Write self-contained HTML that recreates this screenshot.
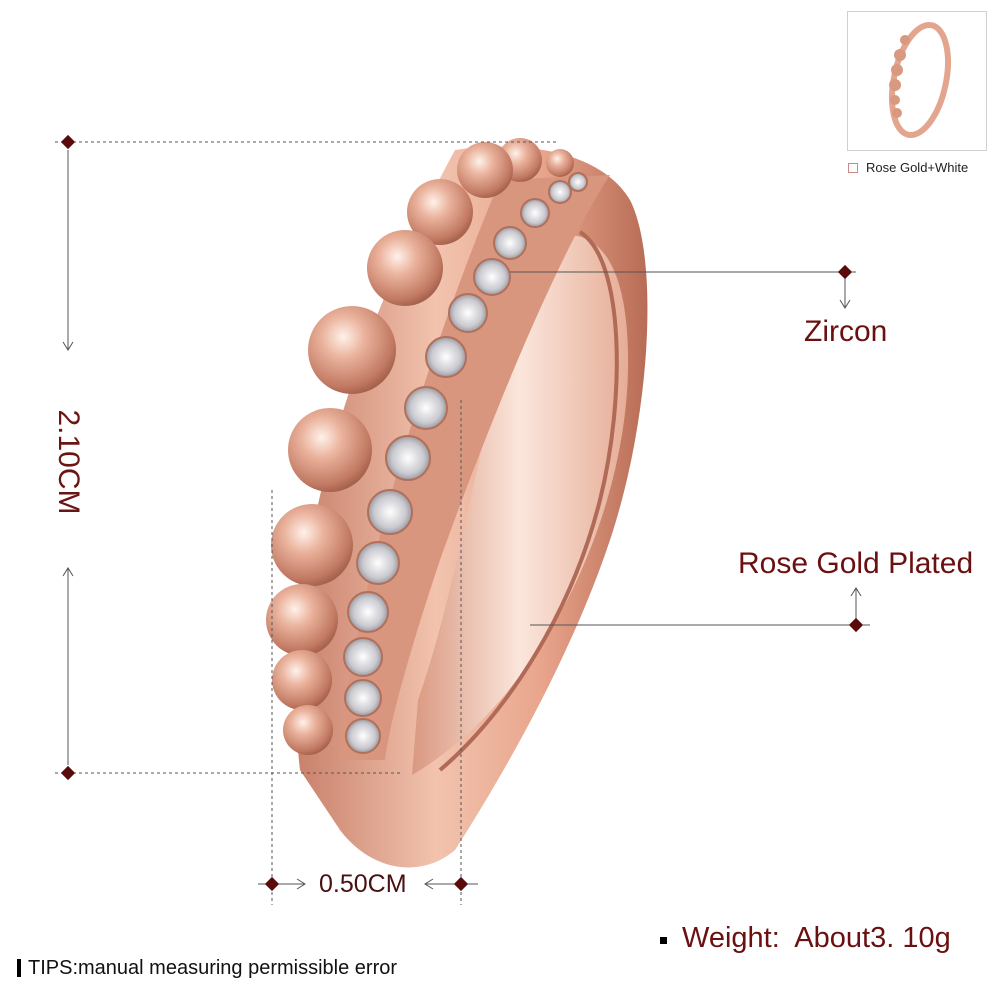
<!DOCTYPE html>
<html><head><meta charset="utf-8"><style>
html,body{margin:0;padding:0;background:#fff;}
body{width:1000px;height:1000px;overflow:hidden;position:relative;font-family:"Liberation Sans",Arial,sans-serif;}
.t{position:absolute;white-space:nowrap;}
</style></head><body>
<svg width="1000" height="1000" style="position:absolute;left:0;top:0">
<defs>
<linearGradient id="band" x1="0" y1="0" x2="1" y2="0">
<stop offset="0" stop-color="#c8806a"/><stop offset="0.4" stop-color="#f2c3ae"/><stop offset="0.7" stop-color="#e8a58c"/><stop offset="1" stop-color="#b86c55"/>
</linearGradient>
<linearGradient id="inner" x1="0" y1="0" x2="1" y2="0">
<stop offset="0" stop-color="#d99880"/><stop offset="0.5" stop-color="#fbe6dc"/><stop offset="1" stop-color="#e6ad97"/>
</linearGradient>
<radialGradient id="bead" cx="0.4" cy="0.35" r="0.7">
<stop offset="0" stop-color="#fff1ea"/><stop offset="0.35" stop-color="#eab29c"/><stop offset="0.8" stop-color="#c27a63"/><stop offset="1" stop-color="#9c5a46"/>
</radialGradient>
<radialGradient id="gem" cx="0.5" cy="0.5" r="0.6">
<stop offset="0" stop-color="#ffffff"/><stop offset="0.6" stop-color="#c9c9cf"/><stop offset="1" stop-color="#7a7a82"/>
</radialGradient>
</defs>
<path d="M455,150 C520,140 600,150 630,200 C660,260 650,420 610,540 C570,660 500,780 455,850 C420,880 370,870 340,830 L300,770 C280,600 330,380 455,150 Z" fill="url(#band)"/>
<path d="M530,245 C590,215 630,250 628,370 C625,520 540,700 412,775 L418,700 C460,580 480,430 530,245 Z" fill="url(#inner)"/>
<path d="M580,232 C625,260 625,400 600,500 C570,620 500,720 440,770" fill="none" stroke="#b06a55" stroke-width="4"/>
<path d="M500,180 L610,175 C560,250 490,420 440,560 C410,650 390,720 385,760 L340,760 C345,650 400,420 500,180 Z" fill="#d8967f"/>
<g fill="url(#gem)" stroke="#b0705c" stroke-width="2">
<circle cx="578" cy="182" r="9"/><circle cx="560" cy="192" r="11"/><circle cx="535" cy="213" r="14"/>
<circle cx="510" cy="243" r="16"/><circle cx="492" cy="277" r="18"/><circle cx="468" cy="313" r="19"/>
<circle cx="446" cy="357" r="20"/><circle cx="426" cy="408" r="21"/><circle cx="408" cy="458" r="22"/>
<circle cx="390" cy="512" r="22"/><circle cx="378" cy="563" r="21"/><circle cx="368" cy="612" r="20"/>
<circle cx="363" cy="657" r="19"/><circle cx="363" cy="698" r="18"/><circle cx="363" cy="736" r="17"/>
</g>
<g fill="url(#bead)">
<circle cx="560" cy="163" r="14"/><circle cx="520" cy="160" r="22"/><circle cx="485" cy="170" r="28"/>
<circle cx="440" cy="212" r="33"/><circle cx="405" cy="268" r="38"/><circle cx="352" cy="350" r="44"/>
<circle cx="330" cy="450" r="42"/><circle cx="312" cy="545" r="41"/><circle cx="302" cy="620" r="36"/>
<circle cx="302" cy="680" r="30"/><circle cx="308" cy="730" r="25"/>
</g>
<g stroke="#555" stroke-width="1" fill="none">
<line x1="55" y1="142" x2="558" y2="142" stroke-dasharray="3,3"/>
<line x1="55" y1="773" x2="400" y2="773" stroke-dasharray="3,3"/>
<line x1="272" y1="490" x2="272" y2="905" stroke-dasharray="3,3"/>
<line x1="461" y1="400" x2="461" y2="905" stroke-dasharray="3,3"/>
<line x1="68" y1="150" x2="68" y2="350"/><polyline points="63,342 68,350 73,342"/>
<line x1="68" y1="568" x2="68" y2="765"/><polyline points="63,576 68,568 73,576"/>
<line x1="258" y1="884" x2="305" y2="884"/><polyline points="297,879 305,884 297,889"/>
<line x1="425" y1="884" x2="478" y2="884"/><polyline points="433,879 425,884 433,889"/>
<line x1="510" y1="272" x2="856" y2="272"/>
<line x1="845" y1="272" x2="845" y2="308"/><polyline points="840,300 845,308 850,300"/>
<line x1="530" y1="625" x2="870" y2="625"/>
<line x1="856" y1="588" x2="856" y2="625"/><polyline points="851,596 856,588 861,596"/>
</g>
<g fill="#5a0a0a">
<rect x="63" y="137" width="10" height="10" transform="rotate(45 68 142)"/>
<rect x="63" y="768" width="10" height="10" transform="rotate(45 68 773)"/>
<rect x="267" y="879" width="10" height="10" transform="rotate(45 272 884)"/>
<rect x="456" y="879" width="10" height="10" transform="rotate(45 461 884)"/>
<rect x="840" y="267" width="10" height="10" transform="rotate(45 845 272)"/>
<rect x="851" y="620" width="10" height="10" transform="rotate(45 856 625)"/>
</g>
<rect x="847.5" y="11.5" width="139" height="139" fill="#fff" stroke="#d0d0d0"/>
<ellipse cx="920" cy="80" rx="26" ry="56" fill="none" stroke="#e3a58e" stroke-width="6" transform="rotate(12 920 80)"/>
<g fill="#d99880"><circle cx="905" cy="40" r="5"/><circle cx="900" cy="55" r="6"/><circle cx="897" cy="70" r="6"/><circle cx="895" cy="85" r="6"/><circle cx="895" cy="100" r="5"/><circle cx="897" cy="113" r="5"/></g>
<rect x="848.5" y="163.5" width="9" height="9" fill="#fff" stroke="#c88"/>
<rect x="17" y="959" width="4" height="18" fill="#000"/>
<rect x="660" y="937" width="7" height="7" fill="#000"/>
</svg>
<div class="t" style="left:866px;top:160px;font-size:13px;color:#222">Rose Gold+White</div>
<div class="t" style="left:-12px;top:445px;font-size:30px;color:#6b1414;transform:rotate(90deg);transform-origin:center;width:160px;text-align:center;">2.10CM</div>
<div class="t" style="left:319px;top:870px;font-size:25px;color:#4a1010">0.50CM</div>
<div class="t" style="left:804px;top:315px;font-size:30px;color:#6b1010">Zircon</div>
<div class="t" style="left:738px;top:547px;font-size:30px;color:#6b1010">Rose Gold Plated</div>
<div class="t" style="left:682px;top:922px;font-size:29px;color:#6b1010">Weight:&nbsp; About3. 10g</div>
<div class="t" style="left:28px;top:957px;font-size:20px;color:#111">TIPS:manual measuring permissible error</div>
</body></html>
